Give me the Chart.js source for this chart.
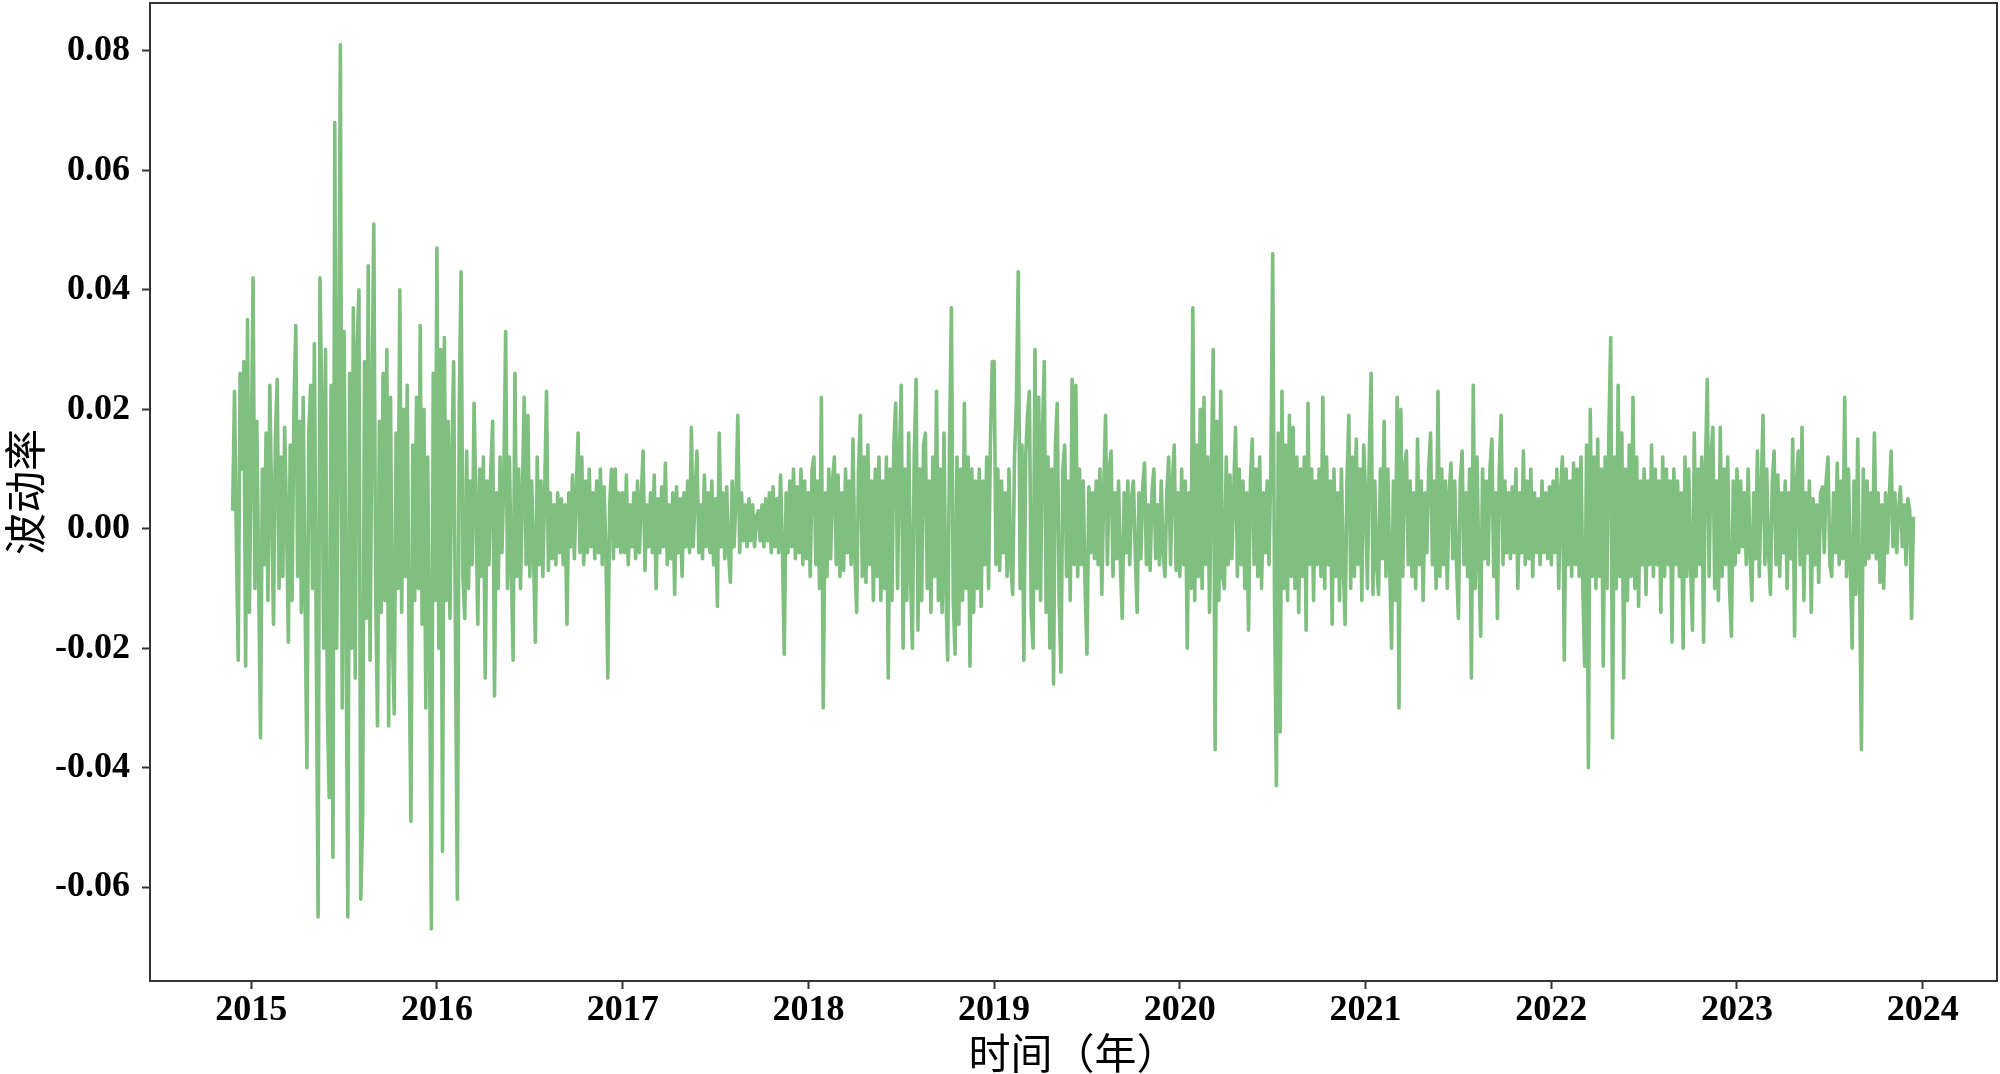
<!DOCTYPE html>
<html>
<head>
<meta charset="utf-8">
<script src="https://cdn.jsdelivr.net/npm/chart.js@4.4.1/dist/chart.umd.min.js"></script>
<style>
  html, body { margin: 0; padding: 0; background: #fff; }
  #wrap { width: 2000px; height: 1074px; }
</style>
</head>
<body>
<div id="wrap"><canvas id="chart" width="2000" height="1074"></canvas></div>
<script>
// daily volatility, one array per calendar year
const vol2014 = [0.003, 0.023, -0.002, -0.022, 0.026, 0.010, 0.028, -0.023, 0.035, -0.014];

const vol2015 = [
  0.012, 0.042, -0.010, 0.018, -0.008, -0.035, 0.010, -0.006, 0.016, -0.012,
  0.024, 0.004, -0.016, 0.015, 0.025, -0.010, 0.012, -0.008, 0.017, 0.002,
  -0.019, 0.014, -0.012, 0.020, 0.034, -0.008, 0.018, -0.014, 0.022, -0.012,
  -0.040, 0.016, 0.024, -0.010, 0.031, -0.018, -0.065, 0.042, 0.021, -0.020,
  0.030, -0.030, -0.045, 0.024, -0.055, 0.068, -0.020, 0.018, 0.081, -0.030,
  0.033, -0.012, -0.065, 0.026, -0.020, 0.037, -0.025, 0.030, 0.040, -0.062,
  -0.048, 0.028, -0.015, 0.044, -0.022, 0.020, 0.051, -0.010, -0.033, 0.018,
  -0.014, 0.026, -0.012, 0.030, -0.033, 0.022, -0.018, -0.031, 0.016, -0.010,
  0.040, -0.014, 0.020, -0.008, 0.024, -0.020, -0.049, 0.014, -0.012, 0.022,
  -0.010, 0.034, -0.016, 0.020, -0.030, 0.012, -0.018, -0.067, 0.026, -0.012
];

const vol2016 = [
  0.047, -0.020, 0.030, -0.054, 0.032, -0.012, 0.018, -0.015, 0.012, 0.028,
  -0.020, -0.062, 0.020, 0.043, -0.008, -0.015, 0.013, -0.010, 0.008, -0.006,
  0.021, 0.004, -0.016, 0.010, -0.008, 0.012, -0.025, 0.008, -0.006, 0.010,
  0.018, -0.028, 0.006, -0.010, 0.012, -0.004, 0.008, 0.033, -0.010, 0.012,
  -0.006, -0.022, 0.026, -0.008, 0.010, -0.010, 0.006, 0.022, -0.006, 0.019,
  -0.008, 0.008, -0.004, -0.019, 0.012, -0.006, 0.008, -0.008, 0.006, 0.023,
  -0.007, 0.006, -0.005, 0.004, -0.006, 0.006, -0.004, 0.005, -0.006, 0.004,
  -0.016, 0.006, -0.003, 0.009, -0.005, 0.006, 0.016, -0.004, 0.012, -0.006,
  0.008, -0.004, 0.010, -0.003, 0.006, -0.005, 0.008, -0.004, 0.010, -0.006,
  0.007, -0.004, -0.025, 0.004, 0.010, -0.005, 0.010, -0.003, 0.006, -0.004
];

const vol2017 = [
  0.006, -0.004, 0.009, -0.006, 0.004, -0.003, 0.006, -0.005, 0.008, -0.004,
  0.005, 0.013, -0.007, 0.004, -0.003, 0.006, -0.004, 0.009, -0.010, 0.005,
  -0.004, 0.007, -0.003, 0.011, -0.006, 0.004, -0.005, 0.006, -0.011, 0.007,
  -0.004, 0.005, -0.008, 0.006, -0.003, 0.008, -0.004, 0.017, -0.003, 0.006,
  0.013, -0.004, 0.004, -0.005, 0.009, -0.003, 0.006, -0.004, 0.008, -0.006,
  0.005, -0.013, 0.016, -0.003, 0.006, -0.005, 0.007, -0.004, -0.009, 0.008,
  -0.003, 0.005, 0.019, -0.004, 0.006, -0.002, 0.004, -0.003, 0.005, -0.002,
  0.004, -0.003, 0.002, 0.003, -0.002, 0.004, -0.003, 0.005, -0.002, 0.006,
  -0.004, 0.007, -0.003, 0.005, -0.004, 0.009, -0.003, -0.021, 0.006, -0.004,
  0.008, -0.003, 0.010, -0.005, 0.007, -0.004, 0.010, -0.006, 0.008, -0.005
];

const vol2018 = [
  0.006, -0.008, 0.010, 0.012, -0.006, 0.008, -0.010, 0.022, -0.030, 0.006,
  -0.008, 0.010, -0.005, 0.008, 0.012, -0.006, 0.009, -0.008, 0.006, -0.007,
  0.010, -0.004, 0.008, -0.006, 0.015, -0.005, -0.014, 0.010, 0.019, -0.008,
  0.012, -0.009, 0.014, -0.006, 0.008, -0.012, 0.010, -0.008, 0.012, -0.012,
  0.008, -0.010, 0.012, -0.025, 0.010, -0.012, 0.014, 0.021, -0.010, 0.012,
  0.024, -0.020, 0.010, -0.012, 0.016, -0.008, -0.020, 0.012, 0.025, -0.017,
  0.010, -0.012, 0.014, 0.016, -0.010, 0.008, -0.014, 0.012, -0.008, 0.023,
  -0.012, 0.010, -0.014, 0.016, -0.010, -0.022, 0.014, 0.037, -0.012, -0.021,
  0.012, -0.016, 0.010, -0.012, 0.021, -0.010, 0.012, -0.023, 0.010, -0.014,
  0.008, -0.010, 0.010, -0.013, 0.008, -0.006, 0.012, -0.010, 0.014, 0.028
];

const vol2019 = [
  0.028, -0.006, 0.010, -0.007, 0.008, -0.004, 0.006, -0.008, 0.010, -0.006,
  -0.011, 0.012, 0.021, 0.043, -0.010, 0.014, -0.022, 0.012, 0.019, 0.023,
  -0.014, -0.020, 0.030, -0.010, 0.022, -0.012, 0.016, 0.028, -0.014, 0.012,
  -0.020, 0.010, -0.026, 0.014, 0.021, -0.012, -0.024, 0.010, 0.014, -0.008,
  0.008, -0.012, 0.025, -0.006, 0.024, -0.008, 0.010, -0.006, 0.008, -0.010,
  -0.021, 0.007, -0.004, 0.006, -0.005, 0.008, -0.006, 0.010, -0.011, 0.006,
  0.019, -0.006, 0.010, 0.013, -0.008, 0.006, -0.005, 0.008, -0.006, -0.015,
  0.006, -0.004, 0.008, -0.006, 0.005, 0.008, -0.004, -0.014, 0.006, -0.005,
  0.007, 0.011, -0.006, 0.004, -0.007, 0.006, 0.010, -0.005, 0.004, -0.006,
  0.008, -0.004, -0.008, 0.006, 0.012, -0.006, 0.008, 0.014, -0.007, 0.006
];

const vol2020 = [
  -0.008, 0.010, -0.006, 0.008, -0.020, 0.006, -0.010, 0.037, -0.012, 0.014,
  -0.008, 0.020, -0.010, 0.022, -0.006, 0.012, -0.014, 0.010, 0.030, -0.037,
  0.018, -0.012, 0.023, -0.008, -0.010, 0.012, -0.006, 0.009, -0.005, 0.006,
  0.017, -0.008, 0.010, -0.006, 0.008, -0.010, 0.006, -0.017, 0.008, 0.015,
  -0.006, 0.010, -0.008, 0.012, -0.010, 0.006, -0.004, 0.008, -0.006, 0.010,
  0.046, -0.012, -0.043, 0.016, -0.034, 0.023, -0.010, 0.014, -0.012, 0.019,
  -0.008, 0.017, -0.010, 0.012, -0.014, 0.010, -0.008, 0.012, -0.017, 0.021,
  -0.006, 0.010, -0.012, 0.008, -0.006, 0.010, -0.008, 0.022, -0.010, 0.012,
  -0.006, 0.008, -0.016, 0.010, -0.008, 0.006, -0.012, 0.010, -0.006, -0.016,
  0.008, 0.019, -0.010, 0.012, -0.008, 0.015, -0.006, 0.010, -0.012, 0.014
];

const vol2021 = [
  0.006, -0.010, 0.012, 0.026, -0.011, 0.008, -0.006, -0.011, 0.010, -0.005,
  0.018, -0.008, 0.010, -0.006, -0.020, 0.008, -0.012, 0.022, -0.030, 0.020,
  -0.008, 0.010, 0.013, -0.006, 0.008, -0.008, 0.006, -0.010, 0.015, -0.006,
  0.008, -0.012, 0.006, -0.004, 0.010, 0.016, -0.006, 0.008, -0.010, 0.023,
  -0.008, 0.010, -0.006, 0.008, -0.010, 0.006, 0.011, -0.005, 0.008, -0.006,
  -0.015, 0.008, 0.013, -0.006, 0.006, -0.008, 0.010, -0.025, 0.024, -0.010,
  0.012, -0.006, -0.018, 0.010, -0.005, 0.008, -0.006, 0.010, 0.015, -0.008,
  0.006, -0.015, 0.010, 0.019, -0.006, 0.008, -0.004, 0.006, -0.005, 0.007,
  -0.004, 0.010, -0.010, 0.006, -0.004, 0.013, -0.006, 0.008, -0.005, 0.010,
  -0.008, 0.006, -0.004, 0.005, -0.006, 0.008, -0.004, 0.006, -0.005, 0.007
];

const vol2022 = [
  -0.006, 0.008, -0.004, 0.010, -0.010, 0.006, 0.012, -0.022, 0.010, -0.006,
  0.008, -0.008, 0.011, -0.006, 0.010, -0.008, 0.012, -0.010, -0.023, 0.014,
  -0.040, 0.020, -0.008, 0.012, -0.010, 0.015, -0.008, 0.010, -0.023, 0.012,
  -0.010, 0.016, 0.032, -0.035, 0.012, -0.010, 0.024, -0.008, 0.016, -0.025,
  0.010, -0.012, 0.014, -0.008, 0.022, -0.010, 0.012, -0.013, 0.008, -0.006,
  0.010, -0.011, 0.008, -0.006, 0.014, -0.008, 0.010, -0.006, 0.008, -0.014,
  0.012, -0.008, 0.010, -0.006, 0.008, -0.019, 0.010, -0.006, 0.008, -0.008,
  0.006, -0.020, 0.012, -0.008, 0.010, -0.006, -0.017, 0.016, -0.008, 0.010,
  -0.006, 0.012, -0.019, 0.010, 0.025, -0.008, 0.012, 0.017, -0.010, 0.008,
  -0.012, 0.017, -0.008, 0.010, -0.006, 0.012, -0.010, -0.018, 0.008, -0.006
];

const vol2023 = [
  0.010, -0.004, 0.008, -0.003, 0.006, -0.006, 0.010, -0.004, -0.012, 0.006,
  -0.005, 0.013, -0.008, 0.006, 0.019, -0.006, 0.010, -0.004, -0.011, 0.008,
  0.013, -0.006, 0.009, -0.008, 0.006, -0.004, 0.008, -0.010, 0.006, -0.005,
  0.015, -0.018, 0.008, 0.013, -0.006, 0.017, -0.012, 0.006, -0.004, 0.008,
  -0.014, 0.005, -0.006, 0.004, -0.009, 0.006, 0.007, -0.004, 0.008, 0.012,
  -0.006, -0.008, 0.006, -0.004, 0.011, -0.006, 0.008, -0.005, 0.022, -0.008,
  0.010, -0.006, -0.020, 0.008, -0.011, 0.015, -0.008, -0.037, 0.010, -0.006,
  0.008, -0.005, 0.006, -0.004, 0.016, -0.005, 0.006, -0.009, 0.004, -0.010,
  0.006, -0.004, 0.005, 0.013, -0.003, 0.006, -0.004, 0.003, 0.007, -0.003,
  0.004, -0.006, 0.005, 0.003, -0.015, 0.002
];

// time span (in years) covered by each array
const segments = [
  { from: 2014.90, to: 2015.0, values: vol2014 },
  { from: 2015.0, to: 2016.0, values: vol2015 },
  { from: 2016.0, to: 2017.0, values: vol2016 },
  { from: 2017.0, to: 2018.0, values: vol2017 },
  { from: 2018.0, to: 2019.0, values: vol2018 },
  { from: 2019.0, to: 2020.0, values: vol2019 },
  { from: 2020.0, to: 2021.0, values: vol2020 },
  { from: 2021.0, to: 2022.0, values: vol2021 },
  { from: 2022.0, to: 2023.0, values: vol2022 },
  { from: 2023.0, to: 2023.96, values: vol2023 }
];

const yearTicks = [2015, 2016, 2017, 2018, 2019, 2020, 2021, 2022, 2023, 2024];
const volTicks = [-0.06, -0.04, -0.02, 0, 0.02, 0.04, 0.06, 0.08];

const points = [];
segments.forEach(seg => {
  const step = (seg.to - seg.from) / seg.values.length;
  seg.values.forEach((v, i) => points.push({ x: seg.from + i * step, y: v }));
});

const tickFont = { family: "'Liberation Serif', 'Times New Roman', serif", size: 36, weight: 'bold' };
const cjkFont = "'Noto Sans CJK SC', sans-serif";

// matplotlib-style box around the plot
const frame = {
  id: 'frame',
  afterDraw(chart) {
    const { ctx, chartArea: a } = chart;
    ctx.save();
    ctx.strokeStyle = '#333';
    ctx.lineWidth = 2;
    ctx.strokeRect(a.left, a.top, a.right - a.left, a.bottom - a.top);
    ctx.restore();
  }
};

new Chart(document.getElementById('chart'), {
  type: 'line',
  data: {
    datasets: [{
      data: points,
      borderColor: '#7fbf7f',
      borderWidth: 3.6,
      borderJoinStyle: 'round',
      pointRadius: 0,
      tension: 0,
      fill: false
    }]
  },
  options: {
    responsive: false,
    animation: false,
    devicePixelRatio: 1,
    layout: { padding: { top: 3, right: 3, left: 0, bottom: 0 } },
    plugins: { legend: { display: false }, tooltip: { enabled: false } },
    scales: {
      x: {
        type: 'linear',
        min: 2014.455,
        max: 2024.40,
        afterFit: s => { s.height = 93; s.paddingLeft = 0; s.paddingRight = 0; },
        afterBuildTicks: s => { s.ticks = yearTicks.map(v => ({ value: v })); },
        grid: { drawOnChartArea: false, tickLength: 8, tickColor: '#333', tickWidth: 2 },
        border: { display: false },
        ticks: {
          color: '#000',
          font: tickFont,
          padding: 0,
          maxRotation: 0,
          autoSkip: false,
          callback: v => String(Math.round(v))
        },
        title: {
          display: true,
          text: '时间（年）',
          color: '#000',
          font: { family: cjkFont, size: 42, lineHeight: 1.0 },
          padding: { top: 0, bottom: 0 }
        }
      },
      y: {
        min: -0.0757,
        max: 0.088,
        afterFit: s => { s.width = 150; s.paddingTop = 0; s.paddingBottom = 0; },
        afterBuildTicks: s => { s.ticks = volTicks.map(v => ({ value: v })); },
        grid: { drawOnChartArea: false, tickLength: 8, tickColor: '#333', tickWidth: 2 },
        border: { display: false },
        ticks: {
          color: '#000',
          font: tickFont,
          padding: 12,
          autoSkip: false,
          callback: v => (Math.abs(v) < 1e-9 ? 0 : v).toFixed(2)
        },
        title: {
          display: true,
          text: '波动率',
          color: '#000',
          font: { family: cjkFont, size: 42, lineHeight: 1.2 },
          padding: { top: 0, bottom: 0 }
        }
      }
    }
  },
  plugins: [frame]
});
</script>
</body>
</html>
